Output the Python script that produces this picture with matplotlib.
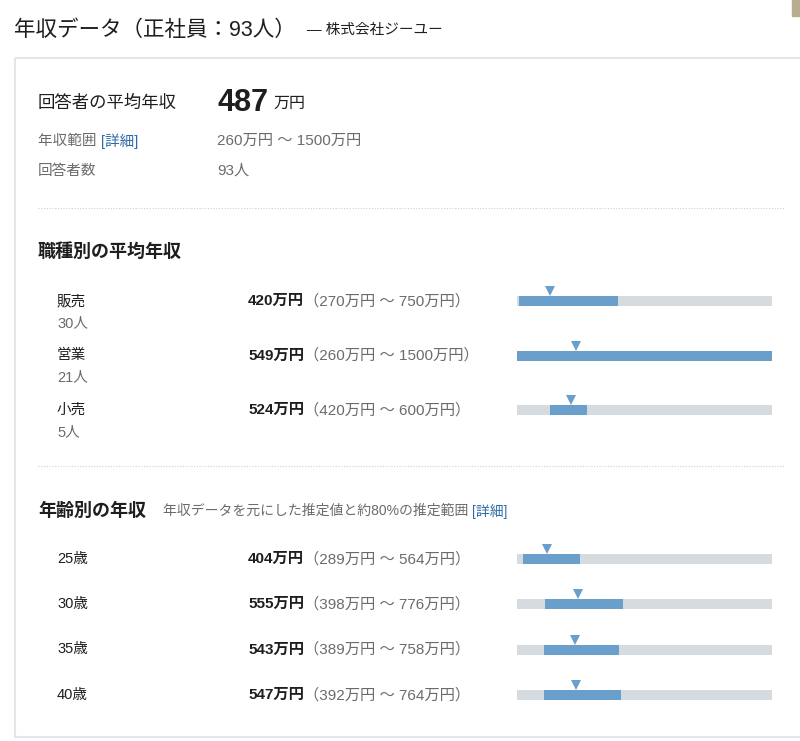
import numpy as np
import matplotlib
matplotlib.use('Agg')
import matplotlib.pyplot as plt
from matplotlib.patches import Rectangle

# 欧文はLiberation Sans、和文はNoto Sans CJK JPで表示
plt.rcParams['font.family'] = ['Liberation Sans', 'Noto Sans CJK JP', 'DejaVu Sans']

# データ
company = '株式会社ジーユー'
n_total = 93
avg_total = 487
range_total = (260, 1500)

jobs = ['販売', '営業', '小売']
job_counts = [30, 21, 5]
job_avg = [420, 549, 524]
job_lo = [270, 260, 420]
job_hi = [750, 1500, 600]

ages = ['25歳', '30歳', '35歳', '40歳']
age_avg = [404, 555, 543, 547]
age_lo = [289, 398, 389, 392]
age_hi = [564, 776, 758, 764]

# 色
c_dark = '#1e1e1e'
c_gray = '#6b6b6b'
c_link = '#2d6aa8'
c_bar = '#6b9fcb'
c_track = '#d6dbdf'
c_line = '#e2e6ea'

W, H = 800, 741
fig = plt.figure(figsize=(W / 100, H / 100), dpi=100)
bg = fig.add_axes([0, 0, 1, 1])
bg.set_xlim(0, W)
bg.set_ylim(H, 0)
bg.axis('off')

# 枠
bg.add_patch(Rectangle((15, 58), 800, 679, fill=False, ec=c_line, lw=1.5))
bg.add_patch(Rectangle((792, 0), 10, 16, color='#b8ad8c'))
bg.plot([38, 785], [208, 208], ls=(0, (1, 1.5)), color='#c9d2d8', lw=0.8)
bg.plot([38, 785], [466, 466], ls=(0, (1, 1.5)), color='#c9d2d8', lw=0.8)


def pair(x, y, t1, t2, s1, s2, w1='normal', w2='normal', col1=c_dark, col2=c_gray, gap=0):
    a = bg.text(x, y, t1, fontsize=s1, fontweight=w1, color=col1, va='center', ha='left')
    b = bg.annotate(t2, xy=(1, 0.5), xycoords=a, xytext=(gap, 0), textcoords='offset points',
                    fontsize=s2, fontweight=w2, color=col2, va='center', ha='left')
    return a, b


# タイトル
pair(14, 30, f'年収データ（正社員：{n_total}人）', f'— {company}', 15.5, 10.5, gap=8, col2=c_dark)

# 概要
bg.text(38, 103, '回答者の平均年収', fontsize=12.5, color=c_dark, va='center')
pair(217, 103, str(avg_total), '万円', 22, 11.5, w1='bold', gap=4, col2=c_dark)
pair(38, 141, '年収範囲 ', '[詳細]', 10.5, 10.5, col1=c_gray, col2=c_link)
bg.text(217, 141, f'{range_total[0]}万円 〜 {range_total[1]}万円', fontsize=11, color=c_gray, va='center')
bg.text(38, 171, '回答者数', fontsize=10.5, color=c_gray, va='center')
bg.text(217, 171, f'{n_total}人', fontsize=11, color=c_gray, va='center')

# 見出し
bg.text(38, 252, '職種別の平均年収', fontsize=13, fontweight='bold', color=c_dark, va='center')
h2, sub = pair(38, 511, '年齢別の年収', '年収データを元にした推定値と約80%の推定範囲 ', 13, 10, w1='bold', gap=12)
bg.annotate('[詳細]', xy=(1, 0.5), xycoords=sub, fontsize=10, color=c_link, va='center', ha='left')

job_y = [301, 355.5, 410]
age_y = [559, 604, 649.5, 695]

for y, name, cnt, a, lo, hi in zip(job_y, jobs, job_counts, job_avg, job_lo, job_hi):
    bg.text(57, y, name, fontsize=10.5, color=c_dark, va='center')
    bg.text(57, y + 22, f'{cnt}人', fontsize=10.5, color=c_gray, va='center')
    pair(248, y, f'{a}万円', f'（{lo}万円 〜 {hi}万円）', 11, 11, w1='bold')

for y, name, a, lo, hi in zip(age_y, ages, age_avg, age_lo, age_hi):
    bg.text(57, y, name, fontsize=10.5, color=c_dark, va='center')
    pair(248, y, f'{a}万円', f'（{lo}万円 〜 {hi}万円）', 11, 11, w1='bold')


def bar_axes(rows_y, lo, hi, avg):
    step = rows_y[1] - rows_y[0]
    top = rows_y[0] - step / 2
    bottom = rows_y[-1] + step / 2
    ax = fig.add_axes([517 / W, 1 - bottom / H, 255 / W, (bottom - top) / H])
    n = len(lo)
    pos = np.arange(n)
    h = 10 / step
    ax.barh(pos, range_total[1] - range_total[0], left=range_total[0], height=h, color=c_track)
    ax.barh(pos, np.array(hi) - np.array(lo), left=lo, height=h, color=c_bar)
    ax.plot(avg, pos - h / 2 - 5 / step, 'v', color=c_bar, ms=6.5, mew=0)
    ax.set_xlim(*range_total)
    ax.set_ylim(n - 0.5, -0.5)
    ax.axis('off')
    return ax


bar_axes(job_y, job_lo, job_hi, job_avg)
bar_axes(age_y, age_lo, age_hi, age_avg)

fig.savefig('out.png', dpi=100, facecolor='white')
